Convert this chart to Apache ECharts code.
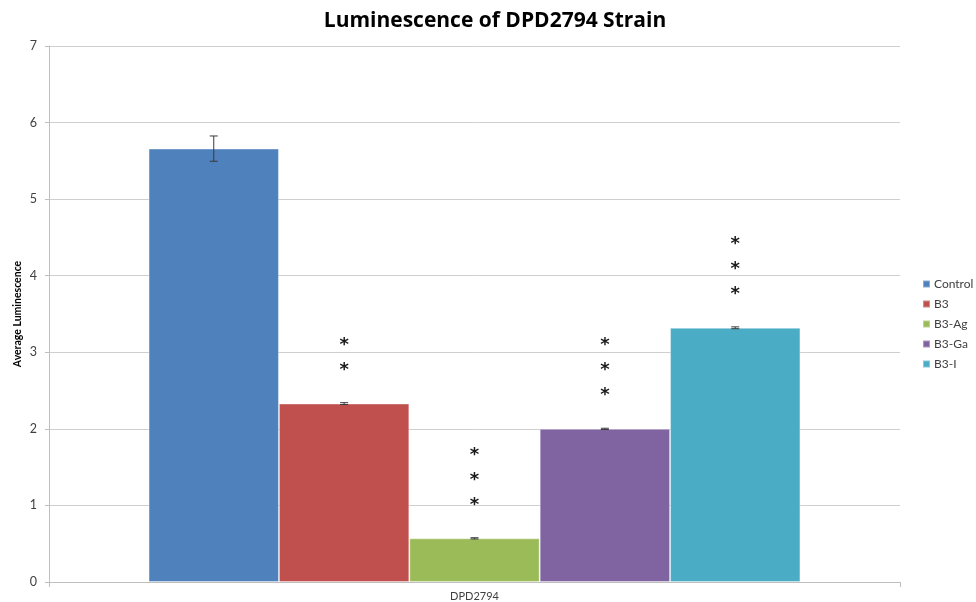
<!DOCTYPE html>
<html>
<head>
<meta charset="utf-8">
<script src="https://cdn.jsdelivr.net/npm/echarts@6/dist/echarts.min.js"></script>
<style>
  html, body { margin: 0; padding: 0; background: #fff; }
  #chart { width: 976px; height: 602px; }
</style>
</head>
<body>
<div id="chart"></div>
<script>
// Strain and treatment groups
const categories = ['DPD2794'];
const groups = ['Control', 'B3', 'B3-Ag', 'B3-Ga', 'B3-I'];
// Mean luminescence per group
const means = [5.66, 2.33, 0.57, 2.0, 3.32];
// Standard error per group
const errors = [0.165, 0.012, 0.008, 0.008, 0.012];
// Significance stars per group
const stars = ['', '**', '***', '***', '***'];
const colors = ['#4F81BD', '#C0504D', '#9BBB59', '#8064A2', '#4BACC6'];
const yTicks = [0, 1, 2, 3, 4, 5, 6, 7];

const GAP = 0.234;
const chart = echarts.init(document.getElementById('chart'));
const fontFam = 'Lato, "Open Sans", sans-serif';

const barSeries = groups.map((g, i) => ({
  name: g,
  type: 'bar',
  data: [means[i]],
  barGap: '0%',
  barCategoryGap: (GAP * 100) + '%',
  itemStyle: { color: colors[i], borderColor: 'rgba(255,255,255,0.35)', borderWidth: 1 },
  label: {
    show: stars[i] !== '',
    position: 'top',
    distance: 21,
    formatter: () => stars[i].split('').join('\n'),
    fontSize: 18,
    fontWeight: 'bold',
    lineHeight: 25,
    color: '#1a1a1a',
    fontFamily: 'DejaVu Sans'
  },
  emphasis: { disabled: true }
}));

// Error bars drawn at the centre of each bar in the group
const errorSeries = {
  type: 'custom',
  silent: true,
  z: 10,
  data: groups.map((g, i) => [0, means[i], errors[i], i]),
  renderItem: function (params, api) {
    const v = api.value(1), e = api.value(2), idx = api.value(3);
    const band = api.size([1, 0])[0];
    const barW = band * (1 - GAP) / groups.length;
    const c = api.coord([0, v]);
    const x = c[0] - band * (1 - GAP) / 2 + (idx + 0.5) * barW;
    const hi = api.coord([0, v + e])[1];
    const lo = api.coord([0, v - e])[1];
    const cap = 4;
    const st = { stroke: '#3a3a3a', lineWidth: 1 };
    return {
      type: 'group',
      children: [
        { type: 'line', shape: { x1: x, y1: hi, x2: x, y2: lo }, style: st },
        { type: 'line', shape: { x1: x - cap, y1: hi, x2: x + cap, y2: hi }, style: st },
        { type: 'line', shape: { x1: x - cap, y1: lo, x2: x + cap, y2: lo }, style: st }
      ]
    };
  }
};

chart.setOption({
  backgroundColor: '#ffffff',
  animation: false,
  title: {
    text: 'Luminescence of DPD2794 Strain',
    left: 490,
    textAlign: 'center',
    top: 6,
    textStyle: { fontSize: 21, fontWeight: 'bold', color: '#000', fontFamily: '"Open Sans", sans-serif' }
  },
  legend: {
    orient: 'vertical',
    left: 917,
    top: 273,
    itemWidth: 7,
    itemHeight: 7,
    itemGap: 8,
    icon: 'rect',
    data: groups,
    textStyle: { fontSize: 12, color: '#404040', fontFamily: fontFam, padding: [0, 0, 0, -1] }
  },
  grid: { left: 49, right: 76, top: 46, bottom: 19, containLabel: false },
  xAxis: {
    type: 'category',
    data: categories,
    axisLine: { lineStyle: { color: '#bfbfbf' } },
    axisTick: { show: true, length: 5, lineStyle: { color: '#bfbfbf' } },
    axisLabel: { fontSize: 11, color: '#404040', margin: 9, fontFamily: fontFam }
  },
  yAxis: {
    type: 'value',
    min: yTicks[0],
    max: yTicks[yTicks.length - 1],
    interval: 1,
    name: 'Average Luminescence',
    nameLocation: 'middle',
    nameGap: 26,
    nameMoveOverlap: false,
    nameTextStyle: { fontSize: 10.5, fontWeight: 'bold', color: '#000', fontFamily: fontFam },
    axisLine: { show: true, lineStyle: { color: '#bfbfbf' } },
    axisTick: { show: true, length: 4, lineStyle: { color: '#bfbfbf' } },
    axisLabel: { fontSize: 12.5, color: '#404040', margin: 12, fontFamily: fontFam },
    splitLine: { lineStyle: { color: '#cfcfcf' } }
  },
  series: [...barSeries, errorSeries]
});
</script>
</body>
</html>
